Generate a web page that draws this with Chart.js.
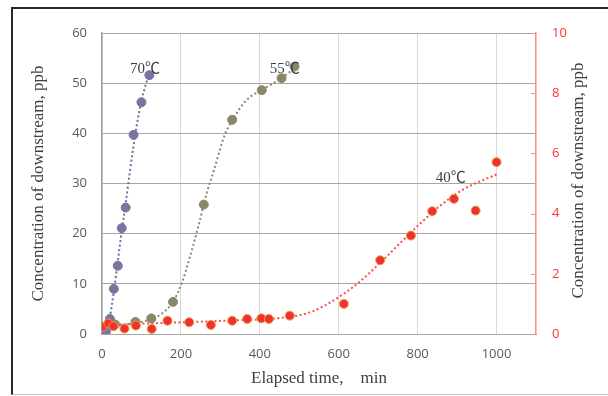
<!DOCTYPE html>
<html><head><meta charset="utf-8">
<script src="https://cdn.jsdelivr.net/npm/chart.js@4.4.1/dist/chart.umd.min.js"></script>
<style>
html,body{margin:0;padding:0;background:#fff;}
#frame{position:absolute;left:11px;top:7px;width:640px;height:385px;border-left:2px solid #2a2a2a;border-top:2px solid #2a2a2a;border-bottom:1px solid #c4c4c4;}
#c{position:absolute;left:0;top:0;}
</style></head>
<body>
<div id="frame"></div>
<canvas id="c" width="608" height="396"></canvas>
<script>
// ---- data ----
const t70 = [10, 20, 30, 40, 50, 60, 80, 100, 120];
const c70 = [0.5, 3.0, 9.0, 13.6, 21.1, 25.2, 39.7, 46.2, 51.6];
const t55 = [0, 33, 85, 125, 180, 258, 330, 405, 455, 488];
const c55 = [0, 1.9, 2.4, 3.1, 6.4, 25.8, 42.7, 48.6, 51.0, 53.3];
const t40 = [1, 16, 29, 57, 86, 126, 166, 221, 276, 330, 368, 404, 423, 476, 613, 705, 783, 837, 892, 947, 1000];
const c40 = [0.24, 0.35, 0.26, 0.18, 0.28, 0.17, 0.44, 0.39, 0.30, 0.44, 0.50, 0.52, 0.50, 0.61, 1.00, 2.45, 3.27, 4.08, 4.49, 4.10, 5.71];
// trend lines
const fit70T = [0, 10, 20, 30, 40, 50, 60, 70, 80, 90, 100, 110, 122];
const fit70C = [0, 1.0, 3.5, 8.5, 14.5, 20.5, 26.0, 32.0, 37.5, 42.5, 46.5, 49.5, 52.5];
const fit55T = [0, 20, 50, 100, 138, 160, 180, 202, 223, 244, 265, 284, 311, 331, 366, 404, 455, 493];
const fit55C = [0.3, 1.2, 1.8, 2.4, 3.4, 4.6, 6.4, 10.1, 15.4, 21.4, 28.0, 32.7, 39.7, 42.7, 46.6, 48.6, 51.0, 53.3];
const fit40T = [0, 138, 307, 476, 527, 585, 645, 704, 754, 805, 856, 915, 1000];
const fit40C = [0.29, 0.36, 0.44, 0.57, 0.72, 1.10, 1.65, 2.35, 3.00, 3.65, 4.25, 4.80, 5.30];
const xTicks = [0, 200, 400, 600, 800, 1000];
const yTicks = [0, 10, 20, 30, 40, 50, 60];
const y2Ticks = [0, 2, 4, 6, 8, 10];
const seriesLabels = ['70℃', '55℃', '40℃'];
const labelAt = [[109, 52.8, 'y'], [463, 52.8, 'y'], [884, 5.18, 'y2']];
const yTitle = 'Concentration of downstream, ppb';
const xTitle = 'Elapsed time,\u3000min';

const pts = (xs, ys) => xs.map((x, i) => ({x: x, y: ys[i]}));
const serif = '"Liberation Serif", "Times New Roman", "Noto Sans CJK JP", serif';
const sans = '"Open Sans", "Noto Sans", sans-serif';

const col70 = '#7676a0', col55 = '#8c8669', colRed = '#f23030';

const innerTicks = {
  id: 'innerTicks',
  afterDatasetsDraw(chart) {
    const s = chart.scales.y2, ctx = chart.ctx, r = chart.chartArea.right;
    ctx.save();
    ctx.strokeStyle = '#ff8a8a'; ctx.lineWidth = 1;
    s.ticks.forEach(tk => {
      const y = Math.round(s.getPixelForValue(tk.value)) + 0.5;
      ctx.beginPath(); ctx.moveTo(r - 5, y); ctx.lineTo(r, y); ctx.stroke();
    });
    ctx.restore();
  }
};
const texts = {
  id: 'texts',
  afterDatasetsDraw(chart) {
    const ctx = chart.ctx, ca = chart.chartArea;
    ctx.save();
    ctx.font = '15px ' + serif;
    ctx.fillStyle = '#404040';
    ctx.textAlign = 'center'; ctx.textBaseline = 'middle';
    labelAt.forEach((p, i) => {
      ctx.fillText(seriesLabels[i], chart.scales.x.getPixelForValue(p[0]), chart.scales[p[2]].getPixelForValue(p[1]));
    });
    // right axis title, reading bottom-to-top like the left one
    const s = chart.scales.y2;
    ctx.font = '17px ' + serif;
    ctx.translate(s.right - 29, (ca.top + ca.bottom) / 2 - 3);
    ctx.rotate(-Math.PI / 2);
    ctx.fillText(yTitle, 0, 0);
    ctx.restore();
  }
};

const ptStyle = (c, b) => ({type: 'scatter', pointRadius: 4.5, pointHoverRadius: 4.5, pointBackgroundColor: c, pointBorderColor: b, pointBorderWidth: 1, showLine: false, order: 0});
const lnStyle = (c) => ({type: 'line', pointRadius: 0, borderColor: c, borderWidth: 2, borderDash: [2, 2.5], tension: 0.4, cubicInterpolationMode: 'monotone', fill: false, order: 1});

new Chart(document.getElementById('c'), {
  data: {
    datasets: [
      Object.assign({label: seriesLabels[2], data: pts(t40, c40), yAxisID: 'y2'}, ptStyle(colRed, '#e2a23a')),
      Object.assign({label: seriesLabels[0], data: pts(t70, c70), yAxisID: 'y'}, ptStyle(col70, col70)),
      Object.assign({label: seriesLabels[1], data: pts(t55, c55), yAxisID: 'y'}, ptStyle(col55, col55)),
      Object.assign({label: 'fit40', data: pts(fit40T, fit40C), yAxisID: 'y2'}, lnStyle('#ff4a4a')),
      Object.assign({label: 'fit70', data: pts(fit70T, fit70C), yAxisID: 'y'}, lnStyle('#6f6f9c')),
      Object.assign({label: 'fit55', data: pts(fit55T, fit55C), yAxisID: 'y'}, lnStyle('#8a8770'))
    ]
  },
  options: {
    responsive: false, animation: false, devicePixelRatio: 1,
    layout: {padding: {top: 33, left: 0, right: 0, bottom: 0}},
    plugins: {legend: {display: false}, tooltip: {enabled: false}},
    scales: {
      x: {
        type: 'linear', min: 0, max: 1100,
        afterBuildTicks: s => { s.ticks = xTicks.map(v => ({value: v})); },
        afterFit: s => { s.height = 62; },
        grid: {color: '#d9d9d9', drawTicks: false, lineWidth: 1},
        border: {color: '#a6a6a6', width: 1},
        ticks: {padding: 12, color: '#595959', font: {family: sans, size: 13}, callback: v => String(v)},
        title: {display: true, text: xTitle, color: '#404040', font: {family: serif, size: 17}, padding: {top: 0, bottom: 7}}
      },
      y: {
        position: 'left', min: 0, max: 60,
        afterBuildTicks: s => { s.ticks = yTicks.map(v => ({value: v})); },
        afterFit: s => { s.width = 102; },
        grid: {color: '#a6a6a6', drawTicks: false, lineWidth: 1},
        border: {color: '#a0a0a0', width: 1.5},
        ticks: {padding: 15, color: '#595959', font: {family: sans, size: 13}, callback: v => String(v)},
        title: {display: true, text: yTitle, color: '#404040', font: {family: serif, size: 17}, padding: {top: 28, bottom: 0}}
      },
      y2: {
        position: 'right', min: 0, max: 10,
        afterBuildTicks: s => { s.ticks = y2Ticks.map(v => ({value: v})); },
        afterFit: s => { s.width = 72; },
        grid: {drawOnChartArea: false, drawTicks: false},
        border: {color: '#ff8a8a', width: 1.5},
        ticks: {padding: 16, color: '#ff3333', font: {family: sans, size: 13}, callback: v => String(v)},
        title: {display: false}
      }
    }
  },
  plugins: [innerTicks, texts]
});
</script>
</body></html>
